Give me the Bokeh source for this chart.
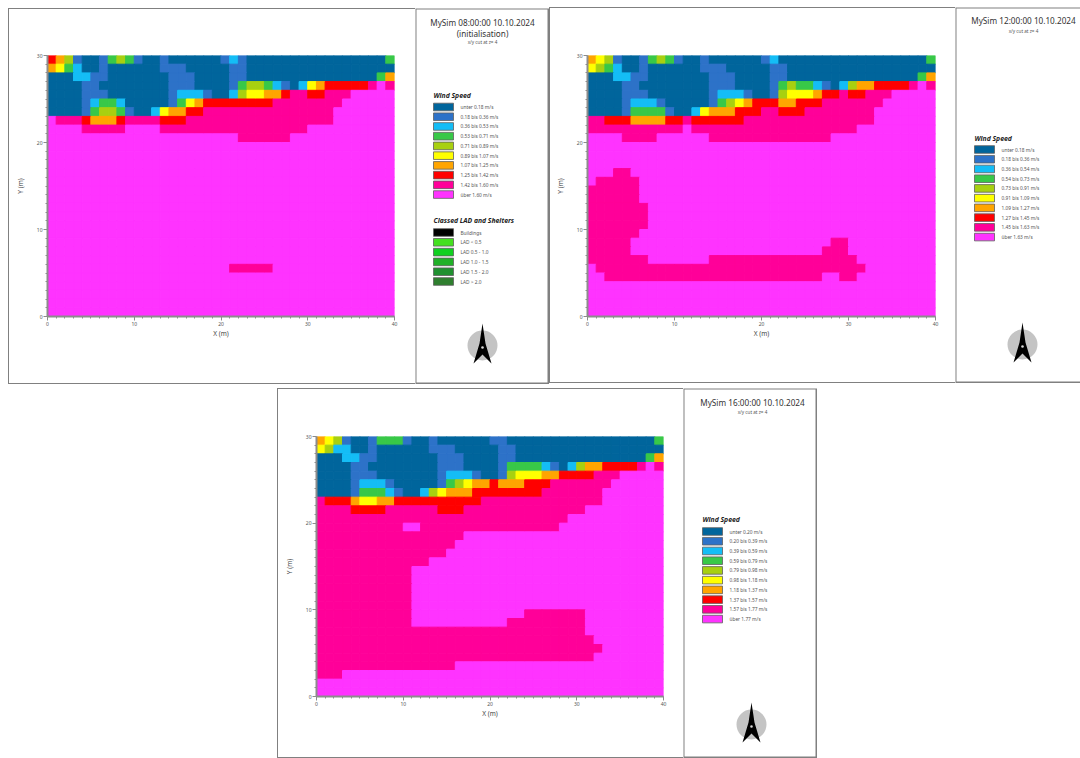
from bokeh.plotting import figure
from bokeh.layouts import row, column
from bokeh.models import Spacer, FixedTicker, Range1d, BoxAnnotation
from bokeh.core.properties import value
from bokeh.embed import file_html
from bokeh.resources import INLINE

CLASS_COLORS = ["#00659c", "#2d72c8", "#14bdf6", "#38c848", "#a8d010",
                "#ffff00", "#ffa500", "#ff0000", "#ff0099", "#ff33ff"]
LAD_COLORS = ["#000000", "#44e020", "#10d020", "#20b028", "#209030", "#2f7f2f"]
LAD_LABELS = ["Buildings", "LAD < 0.5", "LAD 0.5 - 1.0", "LAD 1.0 - 1.5", "LAD 1.5 - 2.0", "LAD > 2.0"]
LAD_TITLE = "Classed LAD and Shelters"
WIND_TITLE = "Wind Speed"

TITLE_1 = ["MySim 08:00:00 10.10.2024", "(initialisation)"]
TITLE_2 = ["MySim 12:00:00 10.10.2024"]
TITLE_3 = ["MySim 16:00:00 10.10.2024"]
SUBTITLE = "x/y cut at z= 4"

LABELS_1 = ["unter 0.18 m/s", "0.18 bis 0.36 m/s", "0.36 bis 0.53 m/s", "0.53 bis 0.71 m/s", "0.71 bis 0.89 m/s",
            "0.89 bis 1.07 m/s", "1.07 bis 1.25 m/s", "1.25 bis 1.42 m/s", "1.42 bis 1.60 m/s", "über 1.60 m/s"]
LABELS_2 = ["unter 0.18 m/s", "0.18 bis 0.36 m/s", "0.36 bis 0.54 m/s", "0.54 bis 0.73 m/s", "0.73 bis 0.91 m/s",
            "0.91 bis 1.09 m/s", "1.09 bis 1.27 m/s", "1.27 bis 1.45 m/s", "1.45 bis 1.63 m/s", "über 1.63 m/s"]
LABELS_3 = ["unter 0.20 m/s", "0.20 bis 0.39 m/s", "0.39 bis 0.59 m/s", "0.59 bis 0.79 m/s", "0.79 bis 0.98 m/s",
            "0.98 bis 1.18 m/s", "1.18 bis 1.37 m/s", "1.37 bis 1.57 m/s", "1.57 bis 1.77 m/s", "über 1.77 m/s"]

M = "9999999999"
P = "8888888888"
# Each row is 40 wind classes, top row (y 29-30) first, 30 rows.
GRID_1 = [
    "7641001343" "1001000000" "1210000000" "0000000003",
    "6532001000" "0001110000" "0110000000" "0000000000",
    "0002211000" "0000111000" "0110000000" "0000000036",
    "0000110000" "0000111000" "0134432102" "5677777898",
    "0000111000" "0000122210" "0245566788" "7788899999",
    "0000123320" "0000135677" "7777778888" "8888999999",
    "0000134431" "0025667788" "8888888888" "8889999999",
    "9888766678" "8887778888" "8888888888" "8889999999",
    "9999888889" "9998888888" "8888888888" "9999999999",
    M + M + "9988888899" + M,
] + [M * 4] * 14 + [
    M + M + "9888889999" + M,
] + [M * 4] * 5

GRID_2 = [
    "6541001343" "1001000000" "1200000000" "0000000003",
    "5432001000" "0001110000" "0110000000" "0000000000",
    "0002211000" "0000111000" "0110000000" "0000000036",
    "0000110000" "0000111000" "0134332102" "4667777898",
    "0000111000" "0000122210" "0145556778" "7788899999",
    "0000122210" "0000134567" "7766777888" "8888999999",
    "0000133331" "0025666777" "8877788888" "8889999999",
    "8877766667" "7877777788" "8888888888" "8889999999",
    "8888888888" "8988888888" "8888888888" "8999999999",
    "9999888899" "9999888888" "8888888899" "9999999999",
    M * 4, M * 4, M * 4,
    "9998899999" + M * 3,
    "9888889999" + M * 3,
    "8888889999" + M * 3,
    "8888889999" + M * 3,
    "8888888999" + M * 3,
    "8888888999" + M * 3,
    "8888888999" + M * 3,
    "8888889999" + M * 3,
    "8888899999" + M + "9999999988" + M,
    "8888899999" + M + "9999999888" + M,
    "8888888999" "9999888888" "8888888888" "8999999999",
    "9888888888" "8888888888" "8888888888" "8899999999",
    "9988888888" "8888888888" "8888888998" "8999999999",
    M * 4, M * 4, M * 4, M * 4,
]

GRID_3 = [
    "6541001333" "1001000000" "1100000000" "0000000003",
    "5422001000" "0001110000" "0110000000" "0000000000",
    "0002211000" "0000111000" "0110000000" "0000000036",
    "0000110000" "0000111000" "0133332102" "4667777898",
    "0000111000" "0000122210" "0145556677" "7788899999",
    "0000122210" "0000134566" "7666777888" "8888999999",
    "0000133321" "0024566677" "7777778888" "8889999999",
    "8777655667" "7777777778" "8888888888" "8889999999",
    "8888777788" "8888777888" "8888888888" "8999999999",
    "8888888888" "8888888888" "8888888889" "9999999999",
    "8888888888" "9988888888" "8888888899" "9999999999",
    P + "8888888999" + M + M,
    P + "8888889999" + M + M,
    P + "8888899999" + M + M,
    P + "8889999999" + M + M,
    P + "8999999999" + M + M,
    P + "8999999999" + M + M,
    P + "8999999999" + M + M,
    P + "8999999999" + M + M,
    P + "8999999999" + M + M,
    P + "8999999999" "9999888888" "8999999999",
    P + "8999999999" "9988888888" "8999999999",
    P + P + P + "8999999999",
    P + P + P + "8899999999",
    P + P + P + "8889999999",
    P + P + P + "8899999999",
    P + "8888889999" + M + M,
    "8889999999" + M * 3,
    M * 4, M * 4,
]

FONT = "Noto Sans"
AXIS_GREY = "#8c8c8c"
FRAME_GREY = "#808080"


def add_frame(p, width, height):
    p.add_layout(BoxAnnotation(left=0, right=width - 1, top=0, bottom=height - 1,
                               left_units="canvas", right_units="canvas", top_units="canvas", bottom_units="canvas",
                               fill_alpha=0, line_color=FRAME_GREY, line_width=2, line_alpha=1))


def rule(width, height):
    return Spacer(width=width, height=height, styles={"background-color": FRAME_GREY})


def heat_map(grid, width, height, left, right, top, bottom):
    # The panel's border is made of thin rules round the figure (its canvas clips annotations to the frame).
    p = figure(width=width - 1, height=height - 2, x_range=Range1d(0, 40), y_range=Range1d(0, 30),
               toolbar_location=None, output_backend="svg", frame_align=False,
               min_border_left=left - 1, min_border_right=right, min_border_top=top - 1, min_border_bottom=bottom - 1,
               background_fill_color="white", border_fill_color="white", outline_line_color=None,
               x_axis_label="X (m)", y_axis_label="Y (m)")
    p.grid.visible = False
    l, r, b, t, c = [], [], [], [], []
    for ri, line in enumerate(grid):
        for ci, ch in enumerate(line):
            l.append(ci); r.append(ci + 1); t.append(30 - ri); b.append(29 - ri)
            c.append(CLASS_COLORS[int(ch)])
    p.quad(left=l, right=r, bottom=b, top=t, fill_color=c, line_color=c, line_width=1)
    p.xaxis.ticker = FixedTicker(ticks=[0, 10, 20, 30, 40], minor_ticks=list(range(41)))
    p.yaxis.ticker = FixedTicker(ticks=[0, 10, 20, 30], minor_ticks=list(range(31)))
    for ax in (p.xaxis[0], p.yaxis[0]):
        ax.axis_line_color = AXIS_GREY
        ax.axis_line_width = 2
        ax.major_tick_line_color = AXIS_GREY
        ax.minor_tick_line_color = AXIS_GREY
        ax.major_tick_out = 4
        ax.major_tick_in = 0
        ax.minor_tick_out = 2
        ax.minor_tick_in = 0
        ax.major_label_text_font = FONT
        ax.major_label_text_font_size = "5px"
        ax.major_label_text_color = "#555555"
        ax.major_label_standoff = 1
        ax.axis_label_text_font = FONT
        ax.axis_label_text_font_size = "6.5px"
        ax.axis_label_text_font_style = "normal"
        ax.axis_label_text_color = "#444444"
        ax.axis_label_standoff = 0
    p.yaxis[0].axis_label_standoff = 9
    return column(rule(width, 1), row(rule(1, height - 2), p, spacing=0), rule(width, 1), spacing=0)


def add_swatches(p, colors, labels, sx, sy, step):
    for i, (col, lab) in enumerate(zip(colors, labels)):
        cy = sy + i * step
        p.quad(left=[sx], right=[sx + 20], top=[cy - 3.8], bottom=[cy + 3.8], fill_color=col,
               line_color="#606060", line_width=0.8)
        p.text(x=[sx + 27], y=[cy], text=[lab], text_font=value(FONT), text_font_size="4.8px",
               text_color="#555555", text_align="left", text_baseline="middle")


def side_panel(width, height, cx, titles, title_y, sub_y, labels, sx, head_y, sy, arrow, lad=False, open_right=False):
    p = figure(width=width, height=height, x_range=Range1d(0, width), y_range=Range1d(height, 0),
               toolbar_location=None, output_backend="svg", min_border=0, frame_align=False,
               background_fill_color="white", border_fill_color="white", outline_line_color=None,
               x_axis_type=None, y_axis_type=None)
    p.grid.visible = False
    for i, t in enumerate(titles):
        p.text(x=[cx], y=[title_y + i * 10.5], text=[t], text_font=value(FONT), text_font_size="8.2px",
               text_color="#333333", text_align="center", text_baseline="middle")
    p.text(x=[cx], y=[sub_y], text=[SUBTITLE], text_font=value(FONT), text_font_size="4.6px",
           text_color="#555555", text_align="center", text_baseline="middle")
    p.text(x=[sx], y=[head_y], text=[WIND_TITLE], text_font=value(FONT), text_font_size="6.8px",
           text_font_style="bold italic", text_color="#222222", text_align="left", text_baseline="middle")
    add_swatches(p, CLASS_COLORS, labels, sx, sy, 9.73)
    if lad:
        p.text(x=[sx], y=[head_y + 125], text=[LAD_TITLE], text_font=value(FONT), text_font_size="6.8px",
               text_font_style="bold italic", text_color="#222222", text_align="left", text_baseline="middle")
        add_swatches(p, LAD_COLORS, LAD_LABELS, sx, head_y + 137, 9.8)
    ax, ay = arrow
    p.circle(x=[ax], y=[ay], radius=15, fill_color="#c4c4c4", line_color=None)
    p.patch(x=[ax, ax + 3, ax + 9, ax, ax - 9, ax - 3],
            y=[ay - 22, ay - 2, ay + 18, ay + 9, ay + 18, ay - 2], fill_color="black", line_color=None)
    p.circle(x=[ax], y=[ay + 2], radius=1.3, fill_color="#d8d8d8", line_color=None)
    add_frame(p, width + (6 if open_right else 0), height)
    return p


m1 = heat_map(GRID_1, 407, 376, 39, 21, 47, 68)
s1 = side_panel(134, 376, 67, TITLE_1, 14, 33, LABELS_1, 18, 87, 98.5, (67, 337), lad=True)
m2 = heat_map(GRID_2, 406, 376, 38, 20, 48, 67)
s2 = side_panel(125, 376, 68, TITLE_2, 13, 23, LABELS_2, 19, 131, 142, (67, 337), open_right=True)
m3 = heat_map(GRID_3, 406, 370, 39, 20, 48, 62)
s3 = side_panel(134, 370, 69, TITLE_3, 14, 23, LABELS_3, 19, 131, 143, (68, 336))

left_block = column(Spacer(width=541, height=1), row(m1, s1, spacing=0), spacing=0)
top_row = row(Spacer(width=8, height=377), left_block, m2, s2, spacing=0)
bottom_row = row(Spacer(width=277, height=370), m3, s3, spacing=0)
layout = column(Spacer(width=10, height=7), top_row, Spacer(width=10, height=4), bottom_row, spacing=0)

open("out.html", "w").write(file_html(layout, INLINE))
